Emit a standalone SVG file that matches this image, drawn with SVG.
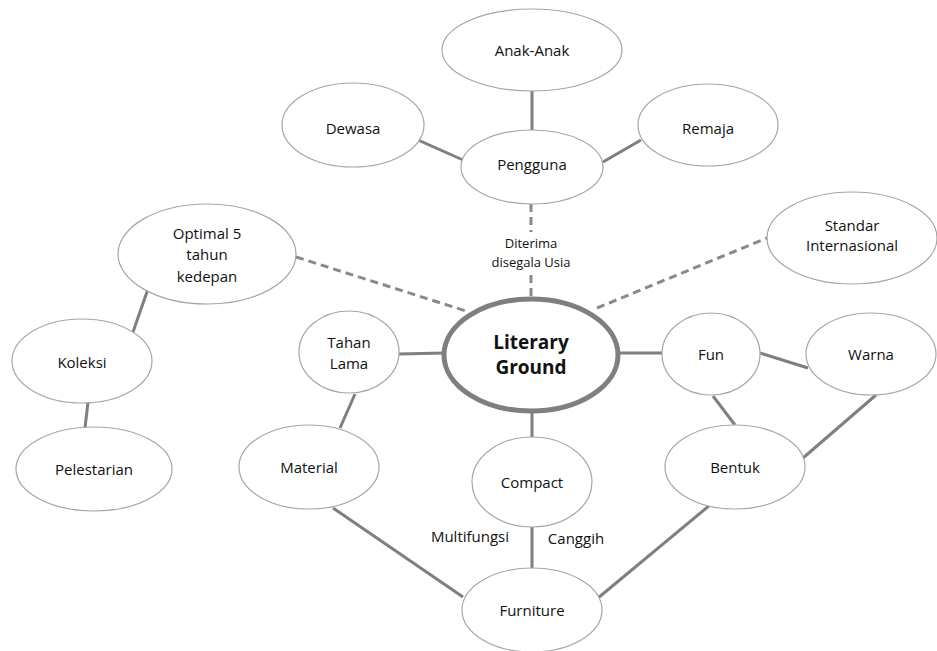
<svg xmlns="http://www.w3.org/2000/svg" width="937" height="651" viewBox="0 0 937 651">
<style>
.n{fill:#fff;stroke:#a6a6a6;stroke-width:1.2}
.c{stroke:#7f7f7f;stroke-width:3;fill:none}
.d{stroke:#8a8a8a;stroke-width:3;fill:none;stroke-dasharray:8 5}
text{font-family:"Open Sans","Liberation Sans",sans-serif;font-size:15px;fill:#111;text-anchor:middle;dominant-baseline:central}
.s{font-size:13px}
.b{font-weight:bold;font-size:19px}
</style>
<rect width="937" height="651" fill="#fff"/>
<g id="connectors">
<line class="c" x1="532" y1="90" x2="532" y2="130"/>
<line class="c" x1="418" y1="140" x2="463" y2="160"/>
<line class="c" x1="603" y1="162" x2="641" y2="140"/>
<line class="d" x1="531" y1="204" x2="531" y2="232"/>
<line class="d" x1="531" y1="275" x2="531" y2="296"/>
<line class="d" x1="296" y1="257" x2="466" y2="311"/>
<line class="d" x1="597" y1="308" x2="767" y2="238"/>
<line class="c" x1="148" y1="289" x2="133" y2="332"/>
<line class="c" x1="88" y1="402" x2="85" y2="428"/>
<line class="c" x1="399" y1="354" x2="444" y2="353"/>
<line class="c" x1="355" y1="394" x2="340" y2="428"/>
<line class="c" x1="619" y1="353" x2="662" y2="353"/>
<line class="c" x1="760" y1="353" x2="808" y2="368"/>
<line class="c" x1="713" y1="396" x2="735" y2="425"/>
<line class="c" x1="876" y1="395" x2="803" y2="458"/>
<line class="c" x1="532" y1="412" x2="532" y2="437"/>
<line class="c" x1="333" y1="508" x2="463" y2="597"/>
<line class="c" x1="532" y1="527" x2="532" y2="568"/>
<line class="c" x1="710" y1="505" x2="598" y2="598"/>
<text class="s" x="531" y="243">Diterima</text>
<text class="s" x="531" y="262">disegala Usia</text>
<text x="470" y="536">Multifungsi</text>
<text x="576" y="538">Canggih</text>
</g>
<g id="anak"><ellipse class="n" cx="532" cy="50" rx="90" ry="41"/><text x="532" y="50">Anak-Anak</text></g>
<g id="dewasa"><ellipse class="n" cx="353" cy="125" rx="71" ry="42"/><text x="353" y="128">Dewasa</text></g>
<g id="remaja"><ellipse class="n" cx="708" cy="125" rx="70" ry="41"/><text x="708" y="128">Remaja</text></g>
<g id="pengguna"><ellipse class="n" cx="532" cy="167" rx="71" ry="37"/><text x="532" y="164">Pengguna</text></g>
<g id="optimal"><ellipse class="n" cx="207" cy="254" rx="89" ry="50"/><text x="207" y="233">Optimal 5</text><text x="207" y="254">tahun</text><text x="207" y="276">kedepan</text></g>
<g id="standar"><ellipse class="n" cx="852" cy="238" rx="85" ry="46"/><text x="852" y="225">Standar</text><text x="852" y="245">Internasional</text></g>
<g id="koleksi"><ellipse class="n" cx="82" cy="361" rx="70" ry="42"/><text x="82" y="362">Koleksi</text></g>
<g id="pelestarian"><ellipse class="n" cx="94" cy="469" rx="78" ry="42"/><text x="94" y="469">Pelestarian</text></g>
<g id="tahan"><ellipse class="n" cx="349" cy="352" rx="50" ry="41"/><text x="349" y="342">Tahan</text><text x="349" y="363">Lama</text></g>
<g id="literary"><ellipse cx="531" cy="355" rx="87" ry="56" fill="#fff" stroke="#7f7f7f" stroke-width="5"/><text class="b" x="531" y="342">Literary</text><text class="b" x="531" y="367">Ground</text></g>
<g id="fun"><ellipse class="n" cx="711" cy="354" rx="49" ry="41"/><text x="711" y="354">Fun</text></g>
<g id="warna"><ellipse class="n" cx="871" cy="354" rx="65" ry="41"/><text x="871" y="354">Warna</text></g>
<g id="material"><ellipse class="n" cx="309" cy="467" rx="70" ry="42"/><text x="309" y="467">Material</text></g>
<g id="compact"><ellipse class="n" cx="532" cy="482" rx="60" ry="45"/><text x="532" y="482">Compact</text></g>
<g id="bentuk"><ellipse class="n" cx="735" cy="467" rx="70" ry="42"/><text x="735" y="467">Bentuk</text></g>
<g id="furniture"><ellipse class="n" cx="532" cy="610" rx="70" ry="42"/><text x="532" y="610">Furniture</text></g>
</svg>
